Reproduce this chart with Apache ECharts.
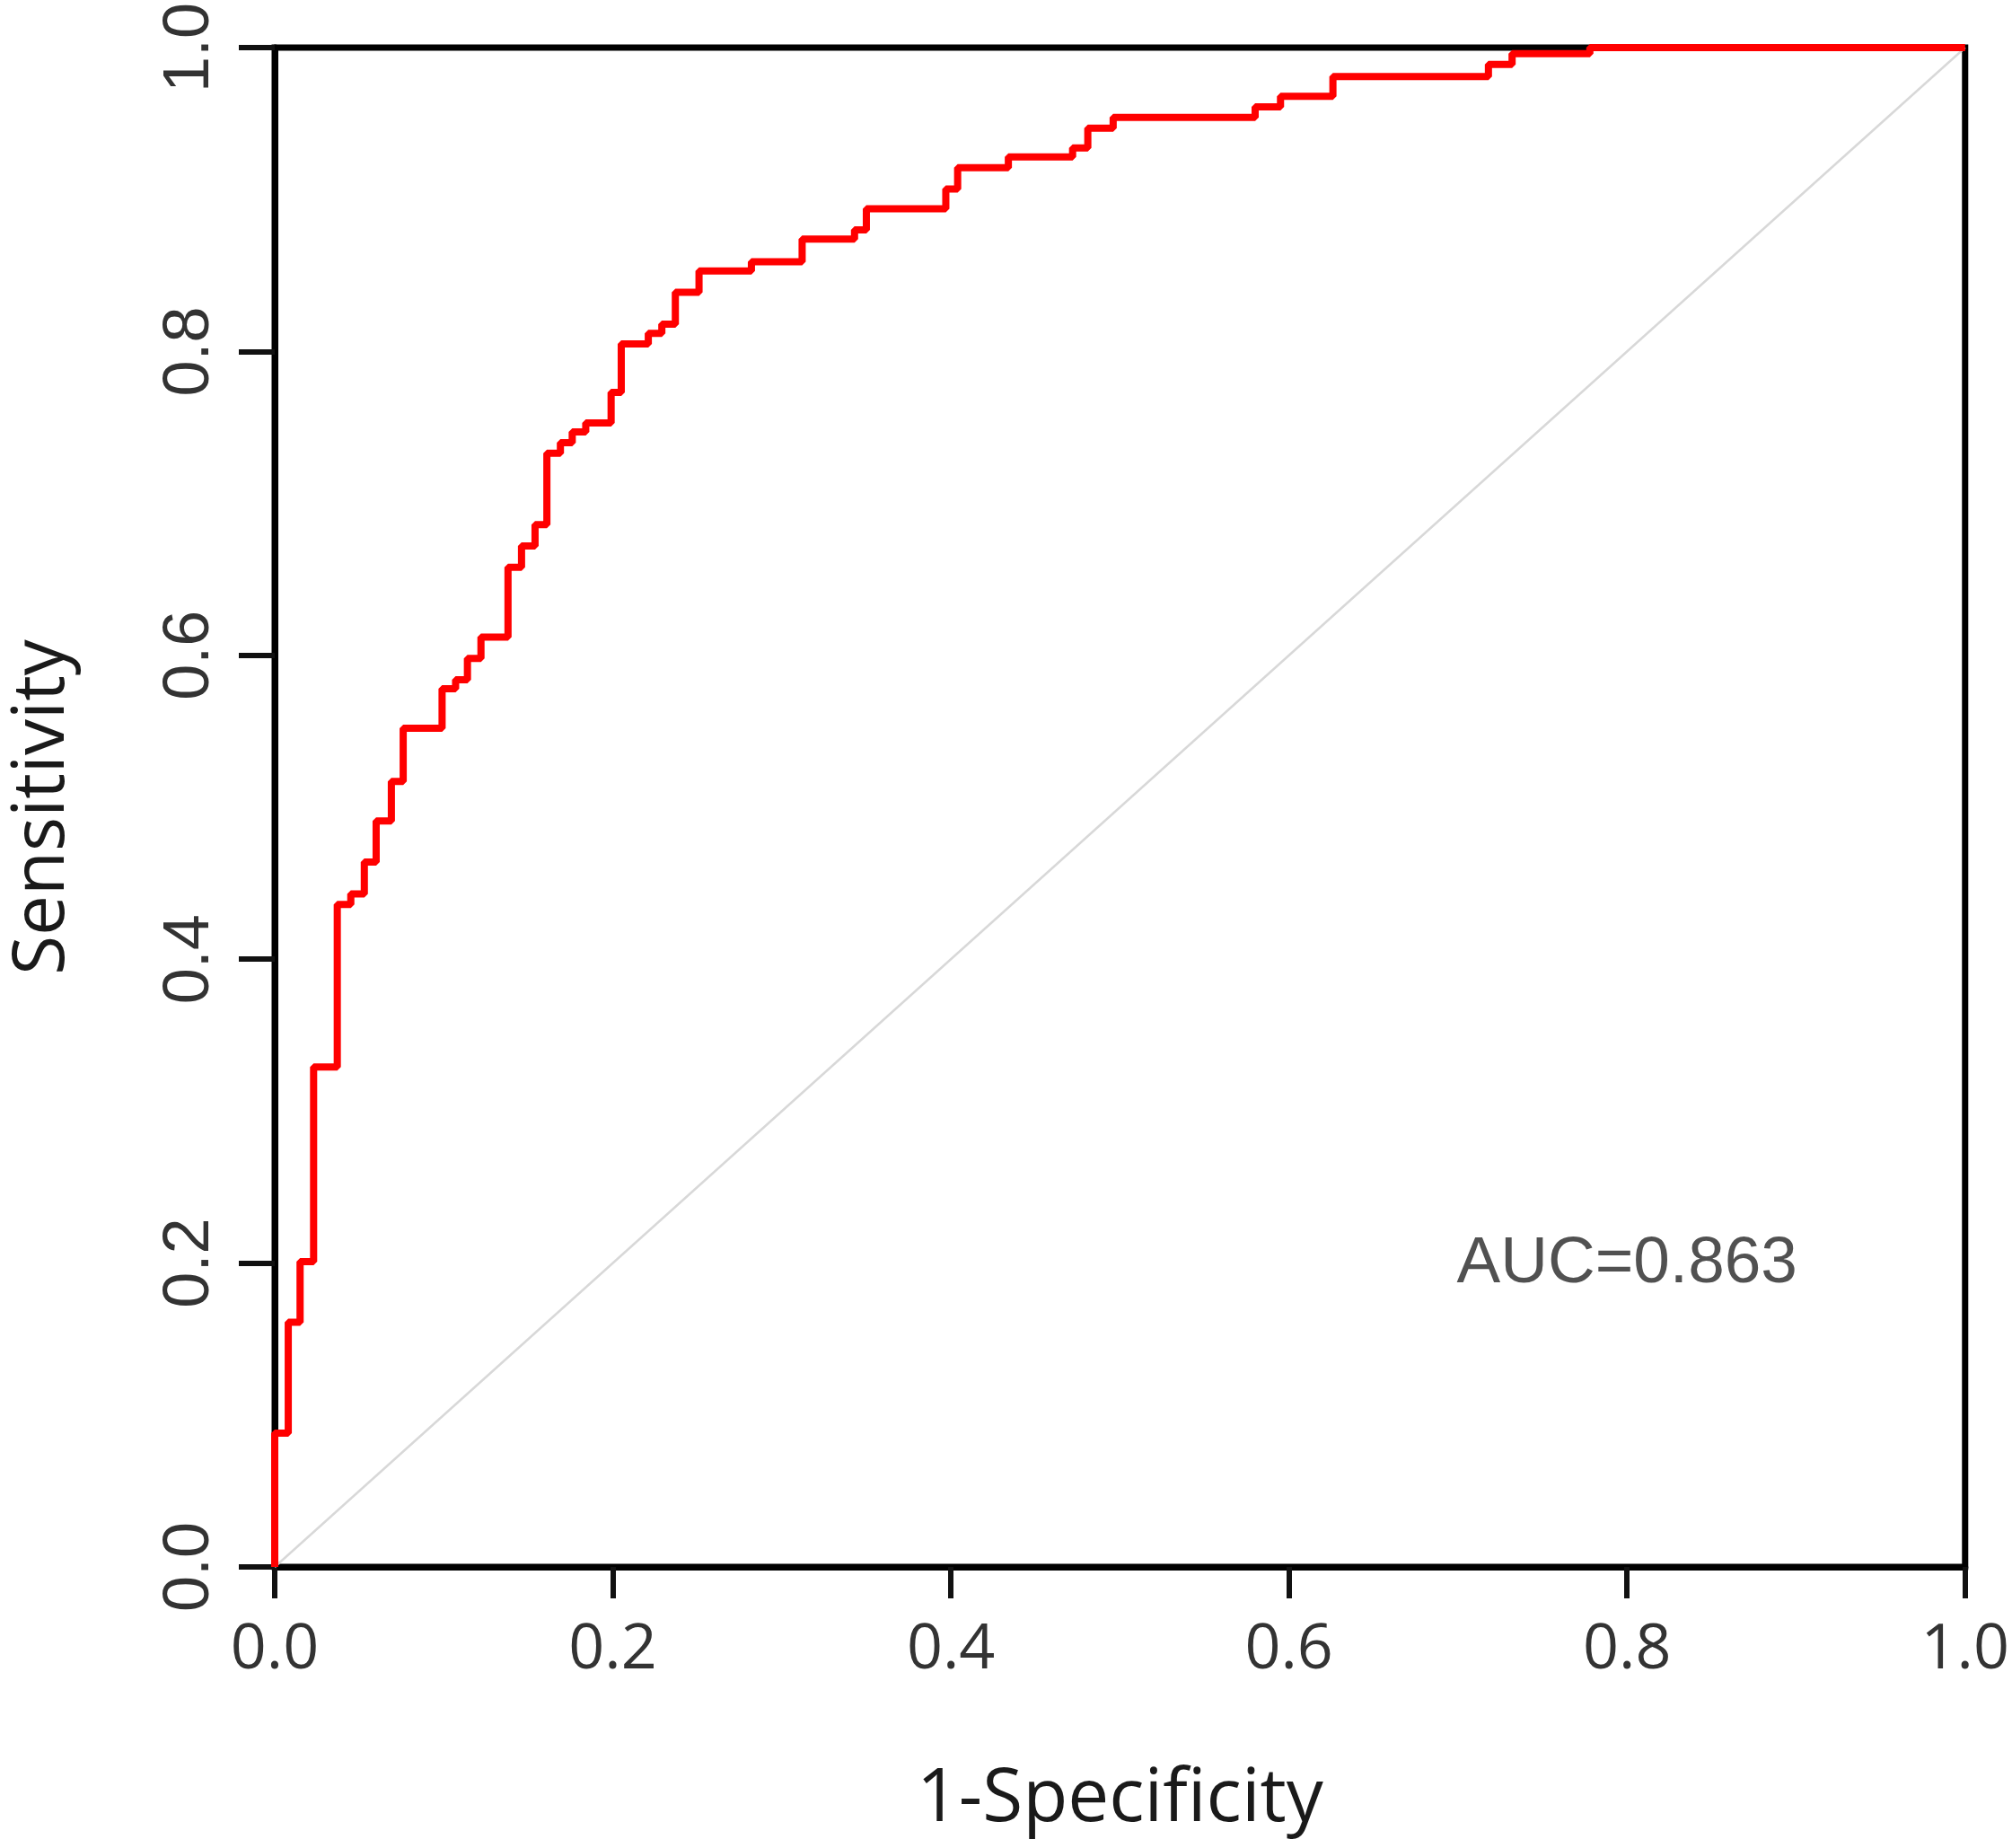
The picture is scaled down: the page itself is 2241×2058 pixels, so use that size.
<!DOCTYPE html>
<html>
<head>
<meta charset="utf-8">
<script src="https://cdn.jsdelivr.net/npm/echarts@6/dist/echarts.min.js"></script>
<style>
html,body{margin:0;padding:0;background:#fff;}
#chart{width:2241px;height:2058px;}
</style>
</head>
<body>
<div id="chart"></div>
<script>
// ROC curve corners: at each fpr the curve steps up to the given tpr
const fpr = [0, 0, 0.008, 0.015, 0.023, 0.037, 0.045, 0.053, 0.060, 0.069, 0.076, 0.099, 0.107, 0.114, 0.122, 0.138, 0.146, 0.154, 0.161, 0.169, 0.176, 0.184, 0.199, 0.205, 0.221, 0.229, 0.237, 0.251, 0.282, 0.312, 0.343, 0.350, 0.397, 0.404, 0.434, 0.472, 0.481, 0.496, 0.580, 0.595, 0.626, 0.718, 0.732, 0.778, 1.0];
const tpr = [0, 0.088, 0.161, 0.201, 0.329, 0.436, 0.443, 0.464, 0.491, 0.517, 0.552, 0.578, 0.584, 0.598, 0.612, 0.658, 0.672, 0.686, 0.733, 0.740, 0.747, 0.753, 0.773, 0.805, 0.812, 0.818, 0.839, 0.853, 0.859, 0.874, 0.880, 0.894, 0.907, 0.921, 0.928, 0.934, 0.947, 0.954, 0.961, 0.968, 0.981, 0.989, 0.996, 1.0, 1.0];
const diagX = [0, 1];
const diagY = [0, 1];
const tickValues = [0, 0.2, 0.4, 0.6, 0.8, 1.0];
const xTitle = '1-Specificity';
const yTitle = 'Sensitivity';
const aucText = 'AUC=0.863';
const aucPos = [0.800, 0.199];

const chart = echarts.init(document.getElementById('chart'), null, {renderer: 'canvas'});
const rocData = fpr.map((x, i) => [x, tpr[i]]);
const diagData = diagX.map((x, i) => [x, diagY[i]]);

const axisCommon = {
  type: 'value', min: tickValues[0], max: tickValues[tickValues.length - 1], interval: 0.2,
  splitLine: {show: false},
  axisLine: {show: true, lineStyle: {color: '#000', width: 7}},
};

chart.setOption({
  backgroundColor: '#ffffff',
  animation: false,
  grid: {left: 300, right: 52, top: 51, bottom: 313, show: true, borderColor: '#000', borderWidth: 7, backgroundColor: 'transparent'},
  xAxis: Object.assign({}, axisCommon, {
    name: xTitle, nameLocation: 'middle', nameGap: 219,
    nameTextStyle: {fontFamily: 'Open Sans', fontSize: 82, color: '#1a1a1a'},
    axisTick: {show: true, inside: false, length: 35, lineStyle: {color: '#111', width: 6}},
    axisLabel: {margin: 58, fontFamily: 'Open Sans', fontSize: 70, color: '#333', formatter: v => v.toFixed(1)}
  }),
  yAxis: Object.assign({}, axisCommon, {
    name: yTitle, nameLocation: 'middle', nameGap: 218,
    nameTextStyle: {fontFamily: 'Open Sans', fontSize: 80, color: '#1a1a1a'},
    axisTick: {show: true, inside: false, length: 40, lineStyle: {color: '#111', width: 6}},
    axisLabel: {margin: 58, rotate: 90, fontFamily: 'Liberation Sans', fontSize: 72, color: '#333', formatter: v => v.toFixed(1)}
  }),
  series: [
    {
      type: 'line', data: diagData, symbol: 'none', silent: true,
      lineStyle: {color: '#d8d8d8', width: 2.5}, z: 2
    },
    {
      type: 'line', data: rocData, step: 'end', symbol: 'none',
      lineStyle: {color: '#ff0000', width: 8}, z: 3
    },
    {
      type: 'scatter', data: [aucPos], symbolSize: 0, z: 4,
      label: {show: true, position: 'inside', formatter: aucText, fontFamily: 'Liberation Sans', fontSize: 73, color: '#262626'}
    }
  ]
});
</script>
</body>
</html>
